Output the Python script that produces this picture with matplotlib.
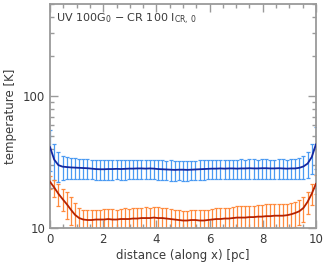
import matplotlib
matplotlib.use("Agg")
import matplotlib.pyplot as plt
import numpy as np
from matplotlib.ticker import FixedLocator, NullFormatter, FixedFormatter

# Grid of cells along x [pc]
n_cells = 65
distance = np.linspace(0.0, 10.0, n_cells)

# Upper profile (blue)
t_blue = [41, 33, 30, 29.2, 29.0, 28.8, 28.7, 28.6, 28.5, 28.4, 28.2, 28.0, 27.9,
          27.9, 28.0, 28.0, 28.1, 28.0, 28.1, 28.2, 28.2, 28.3, 28.3, 28.2, 28.3,
          28.2, 28.0, 27.9, 27.8, 27.7, 27.6, 27.7, 27.7, 27.6, 27.7, 27.8, 27.9,
          28.0, 28.1, 28.2, 28.2, 28.3, 28.2, 28.3, 28.3, 28.2, 28.3, 28.3, 28.4,
          28.3, 28.3, 28.4, 28.4, 28.3, 28.3, 28.4, 28.3, 28.2, 28.3, 28.3, 28.6,
          29.3, 30.8, 34.5, 43]
sig_blue = [14, 10, 7.5, 6.2, 5.5, 5.2, 5.0, 4.9, 4.8, 4.9, 4.8, 4.7, 4.8, 4.9,
            4.7, 4.8, 4.6, 4.8, 4.9, 4.7, 4.8, 4.6, 4.7, 4.8, 4.6, 4.7, 4.9, 4.8,
            4.7, 5.0, 4.9, 4.7, 4.8, 4.9, 4.7, 4.6, 4.8, 4.7, 4.6, 4.8, 4.7, 4.6,
            4.8, 4.7, 4.6, 4.7, 4.8, 4.6, 4.7, 4.8, 4.6, 4.7, 4.8, 4.7, 4.6, 4.7,
            4.8, 4.7, 4.8, 4.9, 5.2, 5.8, 6.8, 9.0, 15]

# Lower profile (orange)
t_orange = [22.4, 20.3, 18.2, 16.6, 15.2, 13.8, 12.6, 11.9, 11.6, 11.5, 11.5, 11.6,
            11.6, 11.6, 11.7, 11.6, 11.6, 11.7, 11.7, 11.7, 11.8, 11.8, 11.9, 11.9,
            11.9, 12.0, 11.9, 11.9, 11.8, 11.7, 11.6, 11.5, 11.4, 11.4, 11.5, 11.5,
            11.4, 11.4, 11.5, 11.6, 11.7, 11.7, 11.8, 11.8, 11.9, 12.0, 12.0, 12.0,
            12.1, 12.1, 12.2, 12.2, 12.3, 12.3, 12.4, 12.4, 12.4, 12.5, 12.7, 13.0,
            13.4, 14.2, 15.8, 18.2, 21.6]
sig_orange = [2.5, 3.0, 3.4, 3.2, 3.4, 3.3, 2.8, 2.4, 2.2, 2.2, 2.1, 2.2, 2.2, 2.3,
              2.2, 2.3, 2.2, 2.3, 2.4, 2.3, 2.4, 2.3, 2.4, 2.5, 2.4, 2.4, 2.5, 2.4,
              2.3, 2.3, 2.2, 2.1, 2.1, 2.0, 2.1, 2.1, 2.2, 2.2, 2.3, 2.3, 2.4, 2.4,
              2.5, 2.5, 2.6, 2.6, 2.6, 2.6, 2.7, 2.6, 2.7, 2.7, 2.8, 2.8, 2.8, 2.8,
              2.8, 2.7, 2.7, 2.8, 2.9, 3.0, 3.0, 3.2, 3.5]

x_major = [0, 2, 4, 6, 8, 10]
x_labels = ["0", "2", "4", "6", "8", "10"]
y_major = [10, 100]
y_labels = ["10", "100"]

frame_col = "#9a9a9a"
text_col = "#3a3a3a"

fig = plt.figure(figsize=(3.25, 2.63), dpi=100)
ax = fig.add_axes([0.154, 0.133, 0.818, 0.852])

# Error bars first, mean lines on top
ax.errorbar(distance, t_blue, yerr=sig_blue, fmt="none", ecolor="#4a9af2",
            elinewidth=0.9, capsize=1.5, capthick=0.9, zorder=2)
ax.errorbar(distance, t_orange, yerr=sig_orange, fmt="none", ecolor="#ff8a3d",
            elinewidth=0.9, capsize=1.5, capthick=0.9, zorder=2)
ax.plot(distance, t_blue, color="#1428a0", lw=1.3, zorder=3)
ax.plot(distance, t_orange, color="#b52200", lw=1.3, zorder=3)

ax.set_yscale("log")
ax.set_xlim(0, 10)
ax.set_ylim(10, 500)

ax.xaxis.set_major_locator(FixedLocator(x_major))
ax.xaxis.set_major_formatter(FixedFormatter(x_labels))
ax.xaxis.set_minor_locator(FixedLocator(np.arange(0, 10.01, 0.5)))
ax.yaxis.set_major_locator(FixedLocator(y_major))
ax.yaxis.set_major_formatter(FixedFormatter(y_labels))
ax.yaxis.set_minor_locator(FixedLocator([20, 30, 40, 50, 60, 70, 80, 90,
                                         200, 300, 400, 500]))
ax.yaxis.set_minor_formatter(NullFormatter())

ax.tick_params(which="both", direction="in", top=True, right=True,
               color=frame_col, width=1.0, labelcolor=text_col, labelsize=8.5,
               pad=3.5)
ax.tick_params(which="major", length=6)
ax.tick_params(which="minor", length=3)

for sp in ax.spines.values():
    sp.set_color(frame_col)
    sp.set_linewidth(1.3)

ax.set_xlabel("distance (along x) [pc]", fontsize=8.5, color=text_col, labelpad=2)
ax.set_ylabel("temperature [K]", fontsize=8.5, color=text_col, labelpad=4)

ax.text(0.022, 0.93, r"UV 100G$_0$ $-$ CR 100 I$_{\rm CR,\,0}$",
        transform=ax.transAxes, fontsize=8, color=text_col, va="center")

fig.savefig("out.png", dpi=100)
